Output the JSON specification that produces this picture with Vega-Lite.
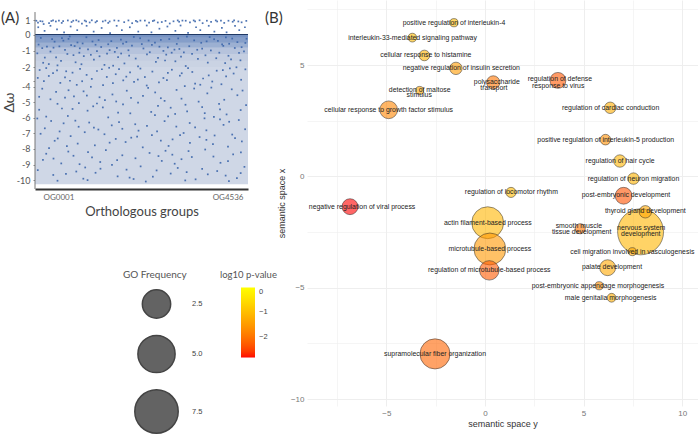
{"$schema":"https://vega.github.io/schema/vega-lite/v6.json","padding":{"left":1,"top":0,"right":0,"bottom":0},"bounds":"flush","spacing":59,"background":"white","config":{"view":{"stroke":null}},"hconcat":[{"width":213,"height":189,"title":{"text":"(A)","anchor":"start","frame":"group","dx":-34,"dy":30,"font":"Lato","fontSize":15,"fontWeight":"normal","color":"#333"},"layer":[{"data":{"values":[{"g":1,"g2":4536,"hi":0,"lo":-10.26}]},"mark":{"type":"rect","fill":"#cfd7e6"},"encoding":{"x":{"field":"g","type":"quantitative","scale":{"domain":[1,4536],"nice":false,"zero":false},"axis":{"values":[1,4536],"labelExpr":"datum.value==1?'OG0001':'OG4536'","labelOffset":{"condition":{"test":"datum.value==1","value":8},"value":-5},"title":"Orthologous groups","titleFont":"Lato","titleFontSize":13,"titleFontWeight":"normal","titleColor":"#444","titlePadding":4,"labelFont":"Lato","labelFontSize":8,"labelColor":"#666","labelPadding":4,"ticks":false,"grid":false,"domainColor":"#333","domainWidth":2}},"x2":{"field":"g2"},"y":{"field":"hi","type":"quantitative","scale":{"domain":[2.38,0,-2,-4,-10.57],"range":[0,34.5,67,86.5,189],"nice":false,"zero":false},"axis":{"values":[1,0,-1,-2,-3.45,-4,-5,-6,-7,-8,-9,-10],"tickCount":20,"labelExpr":"datum.value==-3.45?'':''+datum.value","labelOverlap":false,"title":"Δω","titleFont":"Lato","titleFontSize":14,"titleFontWeight":"normal","titleColor":"#444","titleX":-19,"titleY":102,"labelFont":"Lato","labelFontSize":9,"labelColor":"#555","labelPadding":3,"tickSize":2,"tickColor":"#888","domain":false,"grid":false}},"y2":{"field":"lo"}}},{"data":{"values":[{"g":1,"g2":4536,"hi":0,"lo":-0.2,"d":0.6},{"g":1,"g2":4536,"hi":-0.2,"lo":-0.5,"d":0.5},{"g":1,"g2":4536,"hi":-0.5,"lo":-0.8,"d":0.35},{"g":1,"g2":4536,"hi":-0.8,"lo":-1.2,"d":0.17},{"g":1,"g2":4536,"hi":-1.2,"lo":-1.6,"d":0.07},{"g":1,"g2":4536,"hi":-1.6,"lo":-2,"d":0.03}]},"mark":{"type":"rect","fill":"#3c66ab"},"encoding":{"x":{"field":"g","type":"quantitative"},"x2":{"field":"g2"},"y":{"field":"hi","type":"quantitative"},"y2":{"field":"lo"},"opacity":{"field":"d","type":"quantitative","scale":null,"legend":null}}},{"data":{"values":[{"g":1,"w":0},{"g":4536,"w":0}]},"mark":{"type":"rule","color":"#1f3864","strokeWidth":1.2},"encoding":{"y":{"field":"w","type":"quantitative"}}},{"data":{"values":[{"g":1,"hi":1.55,"lo":-10.57}]},"mark":{"type":"rule","color":"#777","strokeWidth":1},"encoding":{"x":{"field":"g","type":"quantitative"},"y":{"field":"hi","type":"quantitative"},"y2":{"field":"lo"}}},{"data":{"values":[{"g":30,"w":0.95},{"g":65,"w":0.82},{"g":160,"w":0.9},{"g":185,"w":0.72},{"g":300,"w":0.78},{"g":350,"w":0.93},{"g":385,"w":0.98},{"g":510,"w":0.96},{"g":570,"w":0.8},{"g":600,"w":0.92},{"g":700,"w":0.97},{"g":780,"w":0.86},{"g":815,"w":0.95},{"g":930,"w":0.9},{"g":1000,"w":0.75},{"g":1060,"w":0.96},{"g":1090,"w":0.9},{"g":1210,"w":0.98},{"g":1290,"w":0.84},{"g":1320,"w":0.93},{"g":1500,"w":0.96},{"g":1560,"w":0.8},{"g":1590,"w":0.9},{"g":1780,"w":0.95},{"g":1900,"w":0.85},{"g":1990,"w":0.97},{"g":2070,"w":0.78},{"g":2150,"w":0.94},{"g":2180,"w":0.88},{"g":2340,"w":0.96},{"g":2430,"w":0.82},{"g":2510,"w":0.93},{"g":2540,"w":0.97},{"g":2700,"w":0.86},{"g":2780,"w":0.94},{"g":2870,"w":0.76},{"g":2950,"w":0.91},{"g":3040,"w":0.97},{"g":3070,"w":0.88},{"g":3210,"w":0.95},{"g":3300,"w":0.83},{"g":3380,"w":0.97},{"g":3410,"w":0.9},{"g":3570,"w":0.78},{"g":3660,"w":0.95},{"g":3750,"w":0.87},{"g":3850,"w":0.97},{"g":3880,"w":0.9},{"g":4030,"w":0.8},{"g":4120,"w":0.95},{"g":4210,"w":0.88},{"g":4240,"w":0.97},{"g":4400,"w":0.84},{"g":4500,"w":0.94},{"g":70,"w":0.5},{"g":205,"w":0.25},{"g":330,"w":0.6},{"g":470,"w":0.35},{"g":620,"w":0.15},{"g":760,"w":0.55},{"g":900,"w":0.3},{"g":1100,"w":0.6},{"g":1250,"w":0.2},{"g":1420,"w":0.45},{"g":1600,"w":0.1},{"g":1740,"w":0.6},{"g":1850,"w":0.3},{"g":2020,"w":0.5},{"g":2200,"w":0.2},{"g":2380,"w":0.62},{"g":2480,"w":0.15},{"g":2650,"w":0.4},{"g":2820,"w":0.55},{"g":2990,"w":0.25},{"g":3100,"w":0.62},{"g":3260,"w":0.12},{"g":3430,"w":0.5},{"g":3520,"w":0.3},{"g":3700,"w":0.6},{"g":3820,"w":0.2},{"g":3980,"w":0.45},{"g":4080,"w":0.15},{"g":4260,"w":0.6},{"g":4350,"w":0.3},{"g":4470,"w":0.5},{"g":115,"w":0.92},{"g":445,"w":0.9},{"g":880,"w":0.98},{"g":1165,"w":0.83},{"g":1445,"w":0.9},{"g":1690,"w":0.97},{"g":2245,"w":0.96},{"g":2615,"w":0.83},{"g":3140,"w":0.96},{"g":3505,"w":0.98},{"g":3960,"w":0.96},{"g":4330,"w":0.9},{"g":1830,"w":-0.31},{"g":77,"w":-0.62},{"g":2911,"w":-1.12},{"g":418,"w":-0.44},{"g":3560,"w":-0.87},{"g":1255,"w":-1.55},{"g":2240,"w":-0.23},{"g":640,"w":-0.95},{"g":4120,"w":-1.31},{"g":3020,"w":-0.58},{"g":990,"w":-1.83},{"g":1700,"w":-1.07},{"g":210,"w":-1.42},{"g":3815,"w":-0.29},{"g":2575,"w":-1.68},{"g":1410,"w":-0.77},{"g":4480,"w":-0.52},{"g":820,"w":-1.27},{"g":3210,"w":-1.94},{"g":2065,"w":-0.68},{"g":555,"w":-1.62},{"g":3390,"w":-0.36},{"g":1535,"w":-1.18},{"g":4255,"w":-0.83},{"g":2735,"w":-1.01},{"g":125,"w":-0.21},{"g":2145,"w":-1.48},{"g":3680,"w":-1.73},{"g":905,"w":-0.49},{"g":1130,"w":-0.91},{"g":330,"w":-1.05},{"g":2490,"w":-0.64},{"g":4010,"w":-0.7},{"g":3110,"w":-1.36},{"g":1905,"w":-1.78},{"g":715,"w":-0.27},{"g":2385,"w":-1.22},{"g":4375,"w":-1.59},{"g":1625,"w":-0.41},{"g":2830,"w":-0.79},{"g":480,"w":-1.9},{"g":3925,"w":-1.12},{"g":1320,"w":-1.03},{"g":3470,"w":-1.5},{"g":1015,"w":-0.55},{"g":2680,"w":-0.33},{"g":255,"w":-0.74},{"g":4200,"w":-0.25},{"g":1990,"w":-0.97},{"g":3630,"w":-1.28},{"g":1480,"w":-1.87},{"g":605,"w":-0.38},{"g":2990,"w":-1.65},{"g":3285,"w":-0.72},{"g":1770,"w":-1.39},{"g":4450,"w":-1.04},{"g":2310,"w":-0.86},{"g":175,"w":-1.74},{"g":770,"w":-0.66},{"g":3745,"w":-0.98},{"g":1190,"w":-1.25},{"g":2620,"w":-1.44},{"g":4050,"w":-1.76},{"g":395,"w":-0.81},{"g":2860,"w":-0.28},{"g":1560,"w":-0.6},{"g":3170,"w":-1.1},{"g":1040,"w":-1.33},{"g":2195,"w":-1.96},{"g":4310,"w":-0.47},{"g":50,"w":-1.16},{"g":3540,"w":-0.51},{"g":865,"w":-1.71},{"g":1875,"w":-0.56},{"g":2445,"w":-1.09},{"g":3860,"w":-1.46},{"g":1355,"w":-0.34},{"g":690,"w":-1.2},{"g":3075,"w":-0.89},{"g":4175,"w":-1.53},{"g":520,"w":-0.73},{"g":2005,"w":-1.3},{"g":1665,"w":-1.92},{"g":3345,"w":-1.19},{"g":955,"w":-0.85},{"g":2770,"w":-1.6},{"g":295,"w":-1.82},{"g":4400,"w":-0.78},{"g":1225,"w":-0.43},{"g":3985,"w":-0.61},{"g":2105,"w":-0.15},{"g":3655,"w":-0.42},{"g":740,"w":-0.12},{"g":1290,"w":-0.63},{"g":4065,"w":-0.18},{"g":2555,"w":-0.5},{"g":365,"w":-0.29},{"g":1745,"w":-0.82},{"g":3235,"w":-0.13},{"g":2970,"w":-0.93},{"g":845,"w":-0.71},{"g":4345,"w":-1.13},{"g":1095,"w":-0.17},{"g":1945,"w":-0.46},{"g":3455,"w":-0.94},{"g":2650,"w":-0.75},{"g":155,"w":-0.84},{"g":3895,"w":-0.39},{"g":1590,"w":-0.96},{"g":2275,"w":-0.59},{"g":4505,"w":-0.26},{"g":575,"w":-0.22},{"g":2795,"w":-1.24},{"g":1375,"w":-1.34},{"g":3720,"w":-0.16},{"g":1835,"w":-1.17},{"g":945,"w":-1.12},{"g":3050,"w":-0.24},{"g":4135,"w":-0.57},{"g":450,"w":-1.41},{"g":2420,"w":-0.37},{"g":100,"w":-2.31},{"g":1720,"w":-2.74},{"g":3260,"w":-2.12},{"g":640,"w":-3.06},{"g":2500,"w":-2.47},{"g":4390,"w":-3.31},{"g":960,"w":-2.19},{"g":3700,"w":-2.86},{"g":2110,"w":-3.52},{"g":385,"w":-2.62},{"g":1450,"w":-3.87},{"g":2915,"w":-2.28},{"g":4070,"w":-2.95},{"g":1210,"w":-3.22},{"g":3410,"w":-3.71},{"g":190,"w":-3.44},{"g":2245,"w":-2.16},{"g":800,"w":-2.58},{"g":3870,"w":-2.38},{"g":1580,"w":-2.08},{"g":2735,"w":-3.13},{"g":540,"w":-3.63},{"g":4230,"w":-2.67},{"g":3085,"w":-2.89},{"g":1880,"w":-3.37},{"g":1100,"w":-2.81},{"g":2380,"w":-3.9},{"g":3580,"w":-3.18},{"g":4480,"w":-2.24},{"g":295,"w":-2.92},{"g":1320,"w":-2.41},{"g":2640,"w":-3.58},{"g":3970,"w":-3.77},{"g":745,"w":-3.41},{"g":2025,"w":-2.55},{"g":3190,"w":-3.96},{"g":60,"w":-3.12},{"g":1530,"w":-3.02},{"g":4150,"w":-2.15},{"g":2830,"w":-2.6},{"g":890,"w":-3.83},{"g":3350,"w":-2.51},{"g":2190,"w":-3.29},{"g":1790,"w":-2.22},{"g":470,"w":-2.35},{"g":3775,"w":-3.49},{"g":1035,"w":-4.31},{"g":2680,"w":-4.75},{"g":155,"w":-4.14},{"g":3920,"w":-5.12},{"g":1490,"w":-4.88},{"g":3015,"w":-4.22},{"g":575,"w":-5.41},{"g":2195,"w":-5.03},{"g":4310,"w":-4.56},{"g":1770,"w":-5.68},{"g":3485,"w":-4.97},{"g":830,"w":-4.63},{"g":2410,"w":-4.09},{"g":1240,"w":-5.27},{"g":4080,"w":-5.79},{"g":330,"w":-4.82},{"g":2890,"w":-5.36},{"g":3670,"w":-4.44},{"g":1955,"w":-4.27},{"g":700,"w":-5.89},{"g":4495,"w":-5.2},{"g":1120,"w":-5.55},{"g":3240,"w":-5.6},{"g":2555,"w":-5.83},{"g":90,"w":-5.49},{"g":1650,"w":-4.51},{"g":3810,"w":-5.95},{"g":2030,"w":-5.72},{"g":450,"w":-4.35},{"g":2760,"w":-4.92},{"g":4190,"w":-4.18},{"g":1375,"w":-4.69},{"g":3120,"w":-4.78},{"g":935,"w":-5.07},{"g":3560,"w":-5.32},{"g":2300,"w":-4.6},{"g":240,"w":-5.93},{"g":1875,"w":-5.15},{"g":4380,"w":-5.51},{"g":3390,"w":-4.13},{"g":640,"w":-4.71},{"g":2620,"w":-5.24},{"g":1560,"w":-5.98},{"g":2985,"w":-5.76},{"g":4030,"w":-4.85},{"g":1190,"w":-4.02},{"g":50,"w":-6.05},{"g":2135,"w":-6.42},{"g":3650,"w":-6.81},{"g":860,"w":-6.19},{"g":1480,"w":-7.06},{"g":3010,"w":-6.57},{"g":4260,"w":-7.31},{"g":420,"w":-7.48},{"g":2490,"w":-7.12},{"g":1790,"w":-6.28},{"g":3940,"w":-6.11},{"g":1060,"w":-6.93},{"g":3300,"w":-7.62},{"g":210,"w":-6.68},{"g":2760,"w":-6.22},{"g":4475,"w":-6.74},{"g":1275,"w":-7.77},{"g":610,"w":-6.36},{"g":2295,"w":-7.9},{"g":3505,"w":-7.24},{"g":1930,"w":-7.56},{"g":4110,"w":-7.85},{"g":760,"w":-7.18},{"g":2930,"w":-7.39},{"g":1635,"w":-6.49},{"g":3790,"w":-7.69},{"g":120,"w":-7.03},{"g":2600,"w":-6.87},{"g":3165,"w":-6.98},{"g":1155,"w":-6.31},{"g":4340,"w":-6.15},{"g":525,"w":-6.88},{"g":2050,"w":-7.28},{"g":3410,"w":-6.62},{"g":910,"w":-7.66},{"g":2385,"w":-6.52},{"g":1350,"w":-6.76},{"g":4015,"w":-6.46},{"g":300,"w":-7.95},{"g":2845,"w":-7.81},{"g":1720,"w":-7.36},{"g":3610,"w":-6.04},{"g":680,"w":-7.82},{"g":4200,"w":-7.08},{"g":1510,"w":-8.08},{"g":3120,"w":-8.66},{"g":240,"w":-8.31},{"g":2250,"w":-9.12},{"g":4385,"w":-8.22},{"g":880,"w":-9.45},{"g":2700,"w":-8.77},{"g":1860,"w":-8.41},{"g":3560,"w":-9.28},{"g":560,"w":-8.93},{"g":4060,"w":-9.71},{"g":1215,"w":-8.55},{"g":3270,"w":-8.14},{"g":2015,"w":-9.84},{"g":60,"w":-9.36},{"g":2890,"w":-9.58},{"g":1640,"w":-9.02},{"g":3800,"w":-8.49},{"g":1030,"w":-9.91},{"g":4460,"w":-9.15},{"g":2440,"w":-8.26},{"g":390,"w":-9.67},{"g":3420,"w":-9.95},{"g":1390,"w":-8.84},{"g":2590,"w":-9.38},{"g":710,"w":-8.17},{"g":3950,"w":-8.89},{"g":170,"w":-8.71},{"g":2140,"w":-8.6},{"g":1760,"w":-9.76},{"g":3040,"w":-9.22},{"g":4220,"w":-8.35},{"g":950,"w":-8.98},{"g":2780,"w":-8.12},{"g":3680,"w":-9.63},{"g":480,"w":-10.04},{"g":1290,"w":-9.53},{"g":2360,"w":-10.09},{"g":3200,"w":-10.02},{"g":4130,"w":-10.07},{"g":1120,"w":-10},{"g":1950,"w":-9.33},{"g":3340,"w":-8.52},{"g":820,"w":-8.44},{"g":4300,"w":-9.88},{"g":2975,"w":-8.95},{"g":1425,"w":-2.23},{"g":3125,"w":-2.64},{"g":665,"w":-2.44},{"g":2340,"w":-3.03},{"g":4290,"w":-2.03},{"g":1005,"w":-3.46},{"g":3520,"w":-3.82},{"g":1945,"w":-2.99},{"g":240,"w":-2.11},{"g":2810,"w":-3.34},{"g":4000,"w":-2.32},{"g":1660,"w":-3.66},{"g":3755,"w":-4.07},{"g":715,"w":-4.24},{"g":2560,"w":-4.38},{"g":1320,"w":-5.09},{"g":3205,"w":-5.17},{"g":90,"w":-4.66},{"g":2045,"w":-4.73},{"g":4420,"w":-4.26},{"g":1105,"w":-4.58},{"g":3615,"w":-5.71},{"g":1730,"w":-4.96},{"g":2475,"w":-5.63},{"g":480,"w":-5.11},{"g":3940,"w":-5.47},{"g":1445,"w":-5.34},{"g":2835,"w":-5.91},{"g":800,"w":-5.44},{"g":4135,"w":-6.26},{"g":2205,"w":-6.83},{"g":3295,"w":-6.34},{"g":1255,"w":-6.63},{"g":3825,"w":-7.14},{"g":345,"w":-6.21},{"g":2680,"w":-7.47},{"g":1860,"w":-6.71},{"g":3090,"w":-7.11},{"g":930,"w":-6.58},{"g":4405,"w":-7.52},{"g":1590,"w":-7.6},{"g":2175,"w":-7.21},{"g":485,"w":-7.33},{"g":3650,"w":-7.42},{"g":1130,"w":-8.21},{"g":2630,"w":-8.46},{"g":3625,"w":-8.04},{"g":4110,"w":-8.79},{"g":395,"w":-8.62},{"g":1750,"w":-8.72},{"g":2925,"w":-8.37},{"g":1395,"w":-9.27},{"g":3880,"w":-9.42},{"g":660,"w":-9.6},{"g":2510,"w":-9.78},{"g":3230,"w":-9.49},{"g":1070,"w":-9.19},{"g":4380,"w":-9.55},{"g":2100,"w":-9.93}]},"mark":{"type":"square","size":3,"color":"#3c66ab","opacity":0.9},"encoding":{"x":{"field":"g","type":"quantitative"},"y":{"field":"w","type":"quantitative"}}}]},{"width":391,"height":406,"title":{"text":"(B)","anchor":"start","frame":"group","dx":-42,"dy":30,"font":"Lato","fontSize":15,"fontWeight":"normal","color":"#333"},"layer":[{"data":{"values":[{"term":"positive regulation of interleukin-4","x":-1.57,"y":6.9,"freq":0.21,"p":-1.05},{"term":"interleukin-33-mediated signaling pathway","x":-3.68,"y":6.23,"freq":0.24,"p":-1.05},{"term":"cellular response to histamine","x":-3.07,"y":5.43,"freq":0.35,"p":-1.15},{"term":"negative regulation of insulin secretion","x":-1.47,"y":4.85,"freq":0.48,"p":-1.5},{"term":"polysaccharide transport","x":0.42,"y":4.22,"freq":0.55,"p":-2},{"term":"regulation of defense response to virus","x":3.7,"y":4.31,"freq":0.79,"p":-2.35},{"term":"detection of maltose stimulus","x":-3.31,"y":3.86,"freq":0.2,"p":-1.35},{"term":"cellular response to growth factor stimulus","x":-4.88,"y":2.99,"freq":0.98,"p":-1.8},{"term":"regulation of cardiac conduction","x":6.35,"y":3.08,"freq":0.41,"p":-1.25},{"term":"positive regulation of interleukin-5 production","x":6.11,"y":1.65,"freq":0.35,"p":-1.65},{"term":"regulation of hair cycle","x":6.84,"y":0.69,"freq":0.48,"p":-1.15},{"term":"regulation of neuron migration","x":7.53,"y":-0.1,"freq":0.41,"p":-1.15},{"term":"post-embryonic development","x":7.03,"y":-0.87,"freq":0.88,"p":-2.4},{"term":"regulation of locomotor rhythm","x":1.32,"y":-0.72,"freq":0.32,"p":-1.05},{"term":"negative regulation of viral process","x":-6.84,"y":-1.36,"freq":0.79,"p":-2.85},{"term":"nervous system development","x":7.89,"y":-2.49,"freq":8.6,"p":-1.12},{"term":"thyroid gland development","x":8.13,"y":-1.59,"freq":0.48,"p":-1.35},{"term":"actin filament-based process","x":0.14,"y":-2.08,"freq":3.42,"p":-1.12},{"term":"smooth muscle tissue development","x":4.83,"y":-2.35,"freq":0.32,"p":-2},{"term":"microtubule-based process","x":0.25,"y":-3.26,"freq":3.42,"p":-1.55},{"term":"cell migration involved in vasculogenesis","x":7.47,"y":-3.38,"freq":0.2,"p":-1.35},{"term":"palate development","x":6.22,"y":-4.1,"freq":0.79,"p":-1.3},{"term":"regulation of microtubule-based process","x":0.22,"y":-4.22,"freq":1.18,"p":-2.3},{"term":"post-embryonic appendage morphogenesis","x":5.79,"y":-4.91,"freq":0.21,"p":-1.65},{"term":"male genitalia morphogenesis","x":6.42,"y":-5.45,"freq":0.24,"p":-1.25},{"term":"supramolecular fiber organization","x":-2.53,"y":-7.97,"freq":2.95,"p":-2.2}]},"mark":{"type":"circle","fillOpacity":0.6,"stroke":"#222","strokeWidth":0.6,"strokeOpacity":0.8},"encoding":{"x":{"field":"x","type":"quantitative","scale":{"domain":[-9.02,10.8],"nice":false,"zero":false},"axis":{"values":[-7.5,-5,-2.5,0,2.5,5,7.5,10],"labelExpr":"datum.value%5==0?datum.label:''","labelOverlap":false,"title":"semantic space y","titleFont":"Liberation Sans","titleFontSize":9,"titleFontWeight":"normal","titleColor":"#333","titlePadding":2,"labelFont":"Liberation Sans","labelFontSize":8,"labelColor":"#777","labelPadding":3,"ticks":false,"domain":false,"gridColor":"#eeeeee","gridWidth":{"condition":{"test":"datum.value%5==0","value":1},"value":0.6}}},"y":{"field":"y","type":"quantitative","scale":{"domain":[-10.31,7.92],"nice":false,"zero":false},"axis":{"values":[-10,-7.5,-5,-2.5,0,2.5,5,7.5],"labelExpr":"datum.value%5==0?datum.label:''","labelOverlap":false,"title":"semantic space x","titleFont":"Liberation Sans","titleFontSize":9,"titleFontWeight":"normal","titleColor":"#333","titlePadding":4,"labelFont":"Liberation Sans","labelFontSize":8,"labelColor":"#777","labelPadding":3,"ticks":false,"domain":false,"gridColor":"#eeeeee","gridWidth":{"condition":{"test":"datum.value%5==0","value":1},"value":0.6}}},"size":{"field":"freq","type":"quantitative","scale":{"domain":[0,2.5,5,7.5,9],"range":[0,804,1385,1886,2200]},"legend":{"title":"GO Frequency","orient":"none","legendX":88,"legendY":270,"values":[2.5,5,7.5],"format":".1f","titleFont":"Lato","titleFontSize":10,"titleFontWeight":"normal","titleColor":"#555","titlePadding":9,"labelFont":"Liberation Sans","labelFontSize":7.5,"labelColor":"#444","labelOffset":13,"rowPadding":9.5,"symbolOffset":11,"symbolType":"circle","symbolFillColor":"#636363","symbolStrokeColor":"#444","symbolOpacity":1,"encode":{"symbols":{"update":{"fill":{"value":"#636363"},"fillOpacity":{"value":1},"opacity":{"value":1},"stroke":{"value":"#444"}}}}}},"color":{"field":"p","type":"quantitative","scale":{"domain":[-2.85,0],"range":["#ff0000","#ffff00"]},"legend":{"title":"log10 p-value","orient":"none","legendX":185,"legendY":270,"values":[-2,-1,0],"gradientLength":70,"gradientThickness":14,"titleFont":"Lato","titleFontSize":9.5,"titleFontWeight":"normal","titleColor":"#555","titlePadding":8,"labelFont":"Liberation Sans","labelFontSize":7.5,"labelColor":"#444","labelOffset":4,"gradientStrokeWidth":0,"encode":{"title":{"update":{"dx":{"value":-21}}}}}},"order":{"field":"freq","sort":"descending"}}},{"data":{"values":[{"t":"positive regulation of interleukin-4","x":-1.57,"y":6.9},{"t":"interleukin-33-mediated signaling pathway","x":-3.67,"y":6.23},{"t":"cellular response to histamine","x":-3,"y":5.45},{"t":"negative regulation of insulin secretion","x":-1.2,"y":4.87},{"t":"polysaccharide","x":0.6,"y":4.26},{"t":"transport","x":0.45,"y":3.97},{"t":"regulation of defense","x":3.8,"y":4.37},{"t":"response to virus","x":3.71,"y":4.07},{"t":"detection of maltose","x":-3.31,"y":3.9},{"t":"stimulus","x":-3.33,"y":3.67},{"t":"cellular response to growth factor stimulus","x":-4.88,"y":3},{"t":"regulation of cardiac conduction","x":6.37,"y":3.08},{"t":"positive regulation of interleukin-5 production","x":6.12,"y":1.65},{"t":"regulation of hair cycle","x":6.85,"y":0.69},{"t":"regulation of neuron migration","x":7.53,"y":-0.1},{"t":"post-embryonic development","x":7.15,"y":-0.82},{"t":"thyroid gland development","x":8.13,"y":-1.54},{"t":"regulation of locomotor rhythm","x":1.34,"y":-0.72},{"t":"negative regulation of viral process","x":-6.23,"y":-1.36},{"t":"actin filament-based process","x":0.15,"y":-2.1},{"t":"smooth muscle","x":4.76,"y":-2.23},{"t":"tissue development","x":4.9,"y":-2.48},{"t":"nervous system","x":7.92,"y":-2.32},{"t":"development","x":7.9,"y":-2.58},{"t":"microtubule-based process","x":0.25,"y":-3.25},{"t":"cell migration involved in vasculogenesis","x":7.47,"y":-3.38},{"t":"palate development","x":6.44,"y":-4.07},{"t":"regulation of microtubule-based process","x":0.22,"y":-4.22},{"t":"post-embryonic appendage morphogenesis","x":5.73,"y":-4.91},{"t":"male genitalia morphogenesis","x":6.37,"y":-5.45},{"t":"supramolecular fiber organization","x":-2.53,"y":-7.96}]},"mark":{"type":"text","font":"Liberation Sans","fontSize":6.9,"color":"#222"},"encoding":{"x":{"field":"x","type":"quantitative"},"y":{"field":"y","type":"quantitative"},"text":{"field":"t"}}}]}]}
